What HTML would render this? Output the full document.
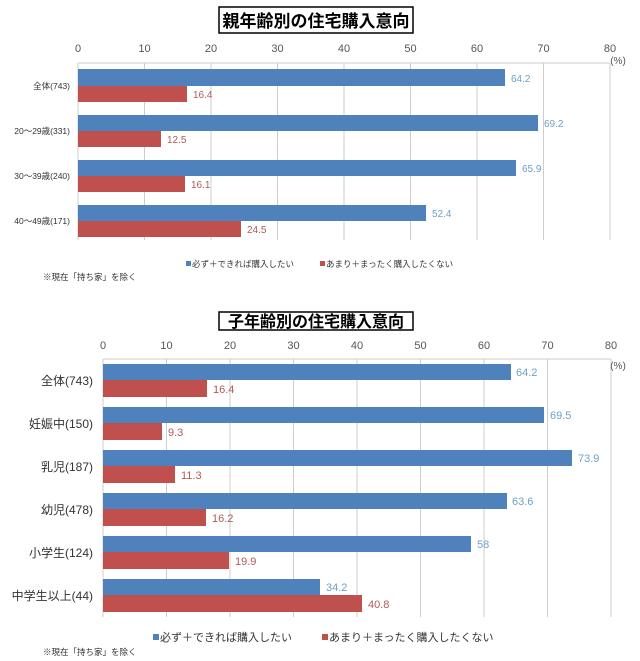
<!DOCTYPE html>
<html><head><meta charset="utf-8"><style>
body{margin:0;background:#fff;}
svg{display:block;font-family:"Liberation Sans","Noto Sans CJK JP",sans-serif;}
</style></head><body>
<svg width="640" height="661" viewBox="0 0 640 661" xmlns="http://www.w3.org/2000/svg">
<rect width="640" height="661" fill="#fff"/>
<!-- Chart 1 -->
<rect x="219" y="7" width="194" height="26" fill="#fff" stroke="#000" stroke-width="1.5"/>
<text x="316" y="27" font-size="17" font-weight="bold" text-anchor="middle" fill="#000">親年齢別の住宅購入意向</text>
<g stroke="#ccc" stroke-width="1">
<line x1="78" y1="63" x2="78" y2="240"/><line x1="144.5" y1="63" x2="144.5" y2="240"/><line x1="211" y1="63" x2="211" y2="240"/><line x1="277.5" y1="63" x2="277.5" y2="240"/><line x1="344" y1="63" x2="344" y2="240"/><line x1="410.5" y1="63" x2="410.5" y2="240"/><line x1="477" y1="63" x2="477" y2="240"/><line x1="543.5" y1="63" x2="543.5" y2="240"/><line x1="610" y1="63" x2="610" y2="240"/>
<line x1="78" y1="63" x2="610" y2="63"/>
</g>
<g font-size="11" fill="#555" text-anchor="middle">
<text x="78" y="52">0</text><text x="144.5" y="52">10</text><text x="211" y="52">20</text><text x="277.5" y="52">30</text><text x="344" y="52">40</text><text x="410.5" y="52">50</text><text x="477" y="52">60</text><text x="543.5" y="52">70</text><text x="610" y="52">80</text>
</g>
<text x="618" y="64" font-size="10" fill="#555" text-anchor="middle">(%)</text>
<g fill="#4f81bd">
<rect x="78" y="69" width="427" height="17"/><rect x="78" y="115" width="460" height="16"/><rect x="78" y="160" width="438" height="16"/><rect x="78" y="205" width="348" height="16"/>
</g>
<g fill="#c0504d">
<rect x="78" y="86" width="109" height="16"/><rect x="78" y="131" width="83" height="16"/><rect x="78" y="176" width="107" height="16"/><rect x="78" y="221" width="163" height="16"/>
</g>
<g font-size="10" fill="#6fa0c8">
<text x="511" y="82">64.2</text><text x="544" y="127">69.2</text><text x="522" y="172">65.9</text><text x="432" y="217">52.4</text>
</g>
<g font-size="10" fill="#b05a58">
<text x="193" y="98">16.4</text><text x="167" y="143">12.5</text><text x="191" y="188">16.1</text><text x="247" y="233">24.5</text>
</g>
<g font-size="8.5" fill="#333" text-anchor="end">
<text x="70" y="89">全体(743)</text><text x="70" y="134">20〜29歳(331)</text><text x="70" y="179">30〜39歳(240)</text><text x="70" y="224">40〜49歳(171)</text>
</g>
<rect x="186" y="261" width="5" height="5" fill="#4f81bd"/>
<text x="192" y="267" font-size="8.5" fill="#333">必ず＋できれば購入したい</text>
<rect x="320" y="261" width="5" height="5" fill="#c0504d"/>
<text x="326" y="267" font-size="8.5" fill="#333">あまり＋まったく購入したくない</text>
<text x="43" y="280" font-size="8.5" fill="#333">※現在「持ち家」を除く</text>

<!-- Chart 2 -->
<rect x="219" y="312" width="194" height="18" fill="#fff" stroke="#000" stroke-width="1.5"/>
<text x="316" y="327" font-size="16" font-weight="bold" text-anchor="middle" fill="#000">子年齢別の住宅購入意向</text>
<g stroke="#ccc" stroke-width="1">
<line x1="103" y1="359" x2="103" y2="617"/><line x1="166.5" y1="359" x2="166.5" y2="617"/><line x1="230" y1="359" x2="230" y2="617"/><line x1="293.5" y1="359" x2="293.5" y2="617"/><line x1="357" y1="359" x2="357" y2="617"/><line x1="420.5" y1="359" x2="420.5" y2="617"/><line x1="484" y1="359" x2="484" y2="617"/><line x1="547.5" y1="359" x2="547.5" y2="617"/><line x1="611" y1="359" x2="611" y2="617"/>
<line x1="103" y1="359" x2="611" y2="359"/>
</g>
<g font-size="11" fill="#555" text-anchor="middle">
<text x="103" y="349">0</text><text x="166.5" y="349">10</text><text x="230" y="349">20</text><text x="293.5" y="349">30</text><text x="357" y="349">40</text><text x="420.5" y="349">50</text><text x="484" y="349">60</text><text x="547.5" y="349">70</text><text x="611" y="349">80</text>
</g>
<text x="618" y="369" font-size="10" fill="#555" text-anchor="middle">(%)</text>
<g fill="#4f81bd">
<rect x="103" y="364" width="408" height="16"/><rect x="103" y="407" width="441" height="16"/><rect x="103" y="450" width="469" height="16"/><rect x="103" y="493" width="404" height="16"/><rect x="103" y="536" width="368" height="16"/><rect x="103" y="579" width="217" height="16"/>
</g>
<g fill="#c0504d">
<rect x="103" y="380" width="104" height="17"/><rect x="103" y="423" width="59" height="17"/><rect x="103" y="466" width="72" height="17"/><rect x="103" y="509" width="103" height="17"/><rect x="103" y="552" width="126" height="17"/><rect x="103" y="595" width="259" height="17"/>
</g>
<g font-size="11" fill="#6fa0c8">
<text x="516" y="376">64.2</text><text x="550" y="419">69.5</text><text x="578" y="462">73.9</text><text x="512" y="505">63.6</text><text x="477" y="548">58</text><text x="326" y="591">34.2</text>
</g>
<g font-size="11" fill="#b05a58">
<text x="213" y="393">16.4</text><text x="168" y="436">9.3</text><text x="181" y="479">11.3</text><text x="212" y="522">16.2</text><text x="235" y="565">19.9</text><text x="368" y="608">40.8</text>
</g>
<g font-size="12" fill="#333" text-anchor="end">
<text x="93" y="385">全体(743)</text><text x="93" y="428">妊娠中(150)</text><text x="93" y="471">乳児(187)</text><text x="93" y="514">幼児(478)</text><text x="93" y="557">小学生(124)</text><text x="93" y="600">中学生以上(44)</text>
</g>
<rect x="153" y="634" width="6" height="6" fill="#4f81bd"/>
<text x="160" y="641" font-size="11" fill="#333">必ず＋できれば購入したい</text>
<rect x="322" y="634" width="6" height="6" fill="#c0504d"/>
<text x="329" y="641" font-size="11" fill="#333">あまり＋まったく購入したくない</text>
<text x="43" y="655" font-size="8.5" fill="#333">※現在「持ち家」を除く</text>
</svg>
</body></html>
